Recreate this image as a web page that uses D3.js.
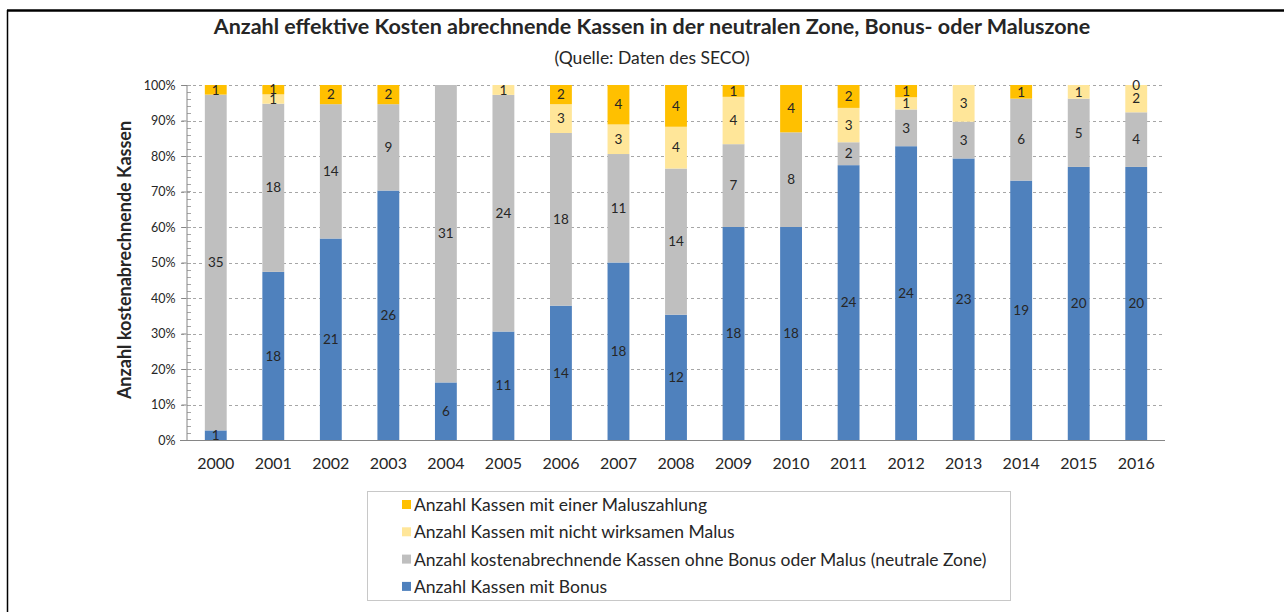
<!DOCTYPE html>
<html>
<head>
<meta charset="utf-8">
<title>Kassen Bonus/Malus</title>
<script src="https://cdn.jsdelivr.net/npm/d3@7"></script>
<style>
  body { margin: 0; background: #fff; font-family: Lato, "Open Sans", sans-serif; }
  text { fill: #262626; }
  .grid line { stroke: #a6a6a6; stroke-dasharray: 3,3; }
  .axis path, .axis line { stroke: #868686; }
</style>
</head>
<body>
<script>
// chart data
var years = ["2000","2001","2002","2003","2004","2005","2006","2007","2008",
             "2009","2010","2011","2012","2013","2014","2015","2016"];
var bonus     = [1, 18, 21, 26, 6, 11, 14, 18, 12, 18, 18, 24, 24, 23, 19, 20, 20];
var neutral   = [35, 18, 14, 9, 31, 24, 18, 11, 14, 7, 8, 2, 3, 3, 6, 5, 4];
var notEff    = [null, 1, null, null, null, 1, 3, 3, 4, 4, null, 3, 1, 3, null, 1, 2];
var malus     = [1, 1, 2, 2, null, null, 2, 4, 4, 1, 4, 2, 1, null, 1, null, 0];
var seriesNames = [
  "Anzahl Kassen mit Bonus",
  "Anzahl kostenabrechnende Kassen ohne Bonus oder Malus (neutrale Zone)",
  "Anzahl Kassen mit nicht wirksamen Malus",
  "Anzahl Kassen mit einer Maluszahlung"
];
var colors = ["#4f81bd", "#bfbfbf", "#ffe699", "#ffc000"];
var yTicks = [0, .1, .2, .3, .4, .5, .6, .7, .8, .9, 1];

var W = 1284, H = 612;
var svg = d3.select("body").append("svg").attr("width", W).attr("height", H);

// frame lines (top and left only visible)
svg.append("line").attr("x1", 7).attr("x2", W).attr("y1", 10.5).attr("y2", 10.5)
  .attr("stroke", "#000").attr("stroke-width", 2.5);
svg.append("line").attr("x1", 7.5).attr("x2", 7.5).attr("y1", 10).attr("y2", H)
  .attr("stroke", "#000").attr("stroke-width", 1.5);

// titles
svg.append("text").attr("x", 652).attr("y", 34).attr("text-anchor", "middle")
  .style("font-weight", "bold").style("font-size", "21.5px")
  .text("Anzahl effektive Kosten abrechnende Kassen in der neutralen Zone, Bonus- oder Maluszone");
svg.append("text").attr("x", 652).attr("y", 64).attr("text-anchor", "middle")
  .style("font-size", "17.5px")
  .text("(Quelle: Daten des SECO)");

var x = d3.scaleBand().domain(years).range([187, 1165]).paddingInner(0.62).paddingOuter(0.31);
var y = d3.scaleLinear().domain([0, 1]).range([440, 85]);

// build stacked rows
var keys = ["bonus", "neutral", "notEff", "malus"];
var rows = years.map(function(yr, i) {
  var r = { year: yr, bonus: bonus[i], neutral: neutral[i], notEff: notEff[i], malus: malus[i] };
  r.total = (bonus[i] || 0) + (neutral[i] || 0) + (notEff[i] || 0) + (malus[i] || 0);
  return r;
});
var stack = d3.stack().keys(keys)
  .value(function(d, k) { return (d[k] || 0) / d.total; });
var layers = stack(rows);

// gridlines
svg.append("g").attr("class", "grid")
  .selectAll("line").data(yTicks.filter(function(t) { return t > 0; }))
  .enter().append("line")
    .attr("x1", 181).attr("x2", 1165)
    .attr("y1", function(d) { return Math.round(y(d)) + 0.5; })
    .attr("y2", function(d) { return Math.round(y(d)) + 0.5; });

// minor ticks on y axis
svg.append("g").selectAll("line").data(d3.range(0, 1.001, 0.02))
  .enter().append("line")
    .attr("x1", 187).attr("x2", 191)
    .attr("y1", function(d) { return Math.round(y(d)) + 0.5; })
    .attr("y2", function(d) { return Math.round(y(d)) + 0.5; })
    .attr("stroke", "#a6a6a6");

// y axis
var yAxis = svg.append("g").attr("class", "axis")
  .attr("transform", "translate(186.5,0)")
  .call(d3.axisLeft(y).tickValues(yTicks).tickFormat(d3.format(".0%")).tickSize(5).tickPadding(6));
yAxis.selectAll("text").style("font-size", "12.5px").style("font-family", "Lato, sans-serif").attr("fill", "#404040");

// bars
var groups = svg.append("g").selectAll("g").data(layers).enter().append("g")
  .attr("fill", function(d, i) { return colors[i]; });
groups.selectAll("rect").data(function(d) { return d; }).enter().append("rect")
  .attr("x", function(d) { return x(d.data.year); })
  .attr("width", x.bandwidth())
  .attr("y", function(d) { return y(d[1]); })
  .attr("height", function(d) { return y(d[0]) - y(d[1]); });

// x axis
var xAxis = svg.append("g").attr("class", "axis")
  .attr("transform", "translate(0,440.5)")
  .call(d3.axisBottom(x).tickSize(0).tickPadding(17));
xAxis.select(".domain").attr("d", "M180,0H1165");
xAxis.selectAll("text").style("font-size", "16px").style("font-family", "Lato, sans-serif").attr("fill", "#262626");

// value labels
layers.forEach(function(layer) {
  svg.append("g").selectAll("text")
    .data(layer.filter(function(d) { return d.data[layer.key] !== null; }))
    .enter().append("text")
      .attr("x", function(d) { return x(d.data.year) + x.bandwidth() / 2; })
      .attr("y", function(d) { return (y(d[0]) + y(d[1])) / 2; })
      .attr("dy", "0.35em")
      .attr("text-anchor", "middle")
      .style("font-size", "13.5px")
      .text(function(d) { return d.data[layer.key]; });
});

// y title
svg.append("text")
  .attr("transform", "translate(131,260) rotate(-90)")
  .attr("text-anchor", "middle")
  .style("font-weight", "bold").style("font-size", "18px")
  .text("Anzahl kostenabrechnende Kassen");

// legend
svg.append("rect").attr("x", 367.5).attr("y", 491.5).attr("width", 643).attr("height", 109)
  .attr("fill", "none").attr("stroke", "#c8c8c8");
var legendOrder = [3, 2, 1, 0];
var leg = svg.append("g").selectAll("g").data(legendOrder).enter().append("g")
  .attr("transform", function(d, i) { return "translate(402," + (505 + i * 27.3) + ")"; });
leg.append("rect").attr("x", 0).attr("y", -5).attr("width", 9).attr("height", 9)
  .attr("fill", function(d) { return colors[d]; });
leg.append("text").attr("x", 12).attr("dy", "0.35em").style("font-size", "17.5px")
  .text(function(d) { return seriesNames[d]; });
</script>
</body>
</html>
